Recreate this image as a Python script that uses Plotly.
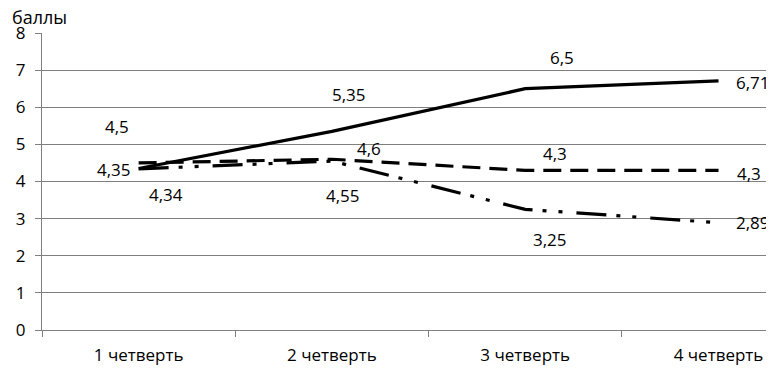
import plotly.graph_objects as go

categories = ["1 четверть", "2 четверть", "3 четверть", "4 четверть"]
series_solid = [4.35, 5.35, 6.5, 6.71]
series_dash = [4.5, 4.6, 4.3, 4.3]
series_dashdot = [4.34, 4.55, 3.25, 2.89]
y_ticks = [0, 1, 2, 3, 4, 5, 6, 7, 8]
y_title = "баллы"

def fmt(v):
    return f"{v:g}".replace(".", ",")

# label offsets (pixels) for each series point
off_solid = [(-25, -1), (17, 37), (37, 31), (34, -2)]
off_dash = [(-22, 36), (37, 11), (30, 17), (30, -3)]
off_dashdot = [(27, -26), (11, -34), (25, -30), (34, 0)]

fig = go.Figure()
styles = [
    (series_solid, "solid", off_solid),
    (series_dash, "18px,9px", off_dash),
    (series_dashdot, "30px,10px,4px,12px,4px,14px", off_dashdot),
]
annotations = []
for vals, dash, offs in styles:
    fig.add_trace(go.Scatter(
        x=categories, y=vals, mode="lines",
        line=dict(color="black", width=3.2, dash=dash),
        showlegend=False, hoverinfo="skip"))
    for c, v, (dx, dy) in zip(categories, vals, offs):
        annotations.append(dict(
            x=c, y=v, xref="x", yref="y", text=fmt(v), showarrow=False,
            xshift=dx, yshift=dy,
            font=dict(family="Open Sans", size=17, color="black")))

annotations.append(dict(
    x=0, y=1, xref="paper", yref="paper", text=y_title, showarrow=False,
    xanchor="left", yanchor="bottom", xshift=-31, yshift=3, borderpad=0,
    font=dict(family="Open Sans", size=18, color="black")))

fig.update_layout(
    width=774, height=369,
    margin=dict(l=27, r=8, t=25, b=47),
    paper_bgcolor="white", plot_bgcolor="white",
    annotations=annotations,
    xaxis=dict(
        type="category", categoryorder="array", categoryarray=categories,
        range=[-0.5, 3.287], tickson="boundaries",
        showgrid=False, showline=True, linecolor="#808080", linewidth=1,
        ticks="outside", ticklen=6, tickcolor="#808080",
        ticklabelstandoff=10,
        tickfont=dict(family="Open Sans", size=17, color="black"),
        zeroline=False),
    yaxis=dict(
        range=[0, 8], tickvals=y_ticks, ticktext=[str(t) for t in y_ticks],
        showgrid=True, gridcolor="#7f7f7f", gridwidth=1,
        showline=True, linecolor="#808080", linewidth=1,
        ticks="outside", ticklen=6, tickcolor="#808080",
        ticklabelstandoff=6,
        tickfont=dict(family="Open Sans", size=17, color="black"),
        zeroline=False),
)

fig.write_html("out.html")
